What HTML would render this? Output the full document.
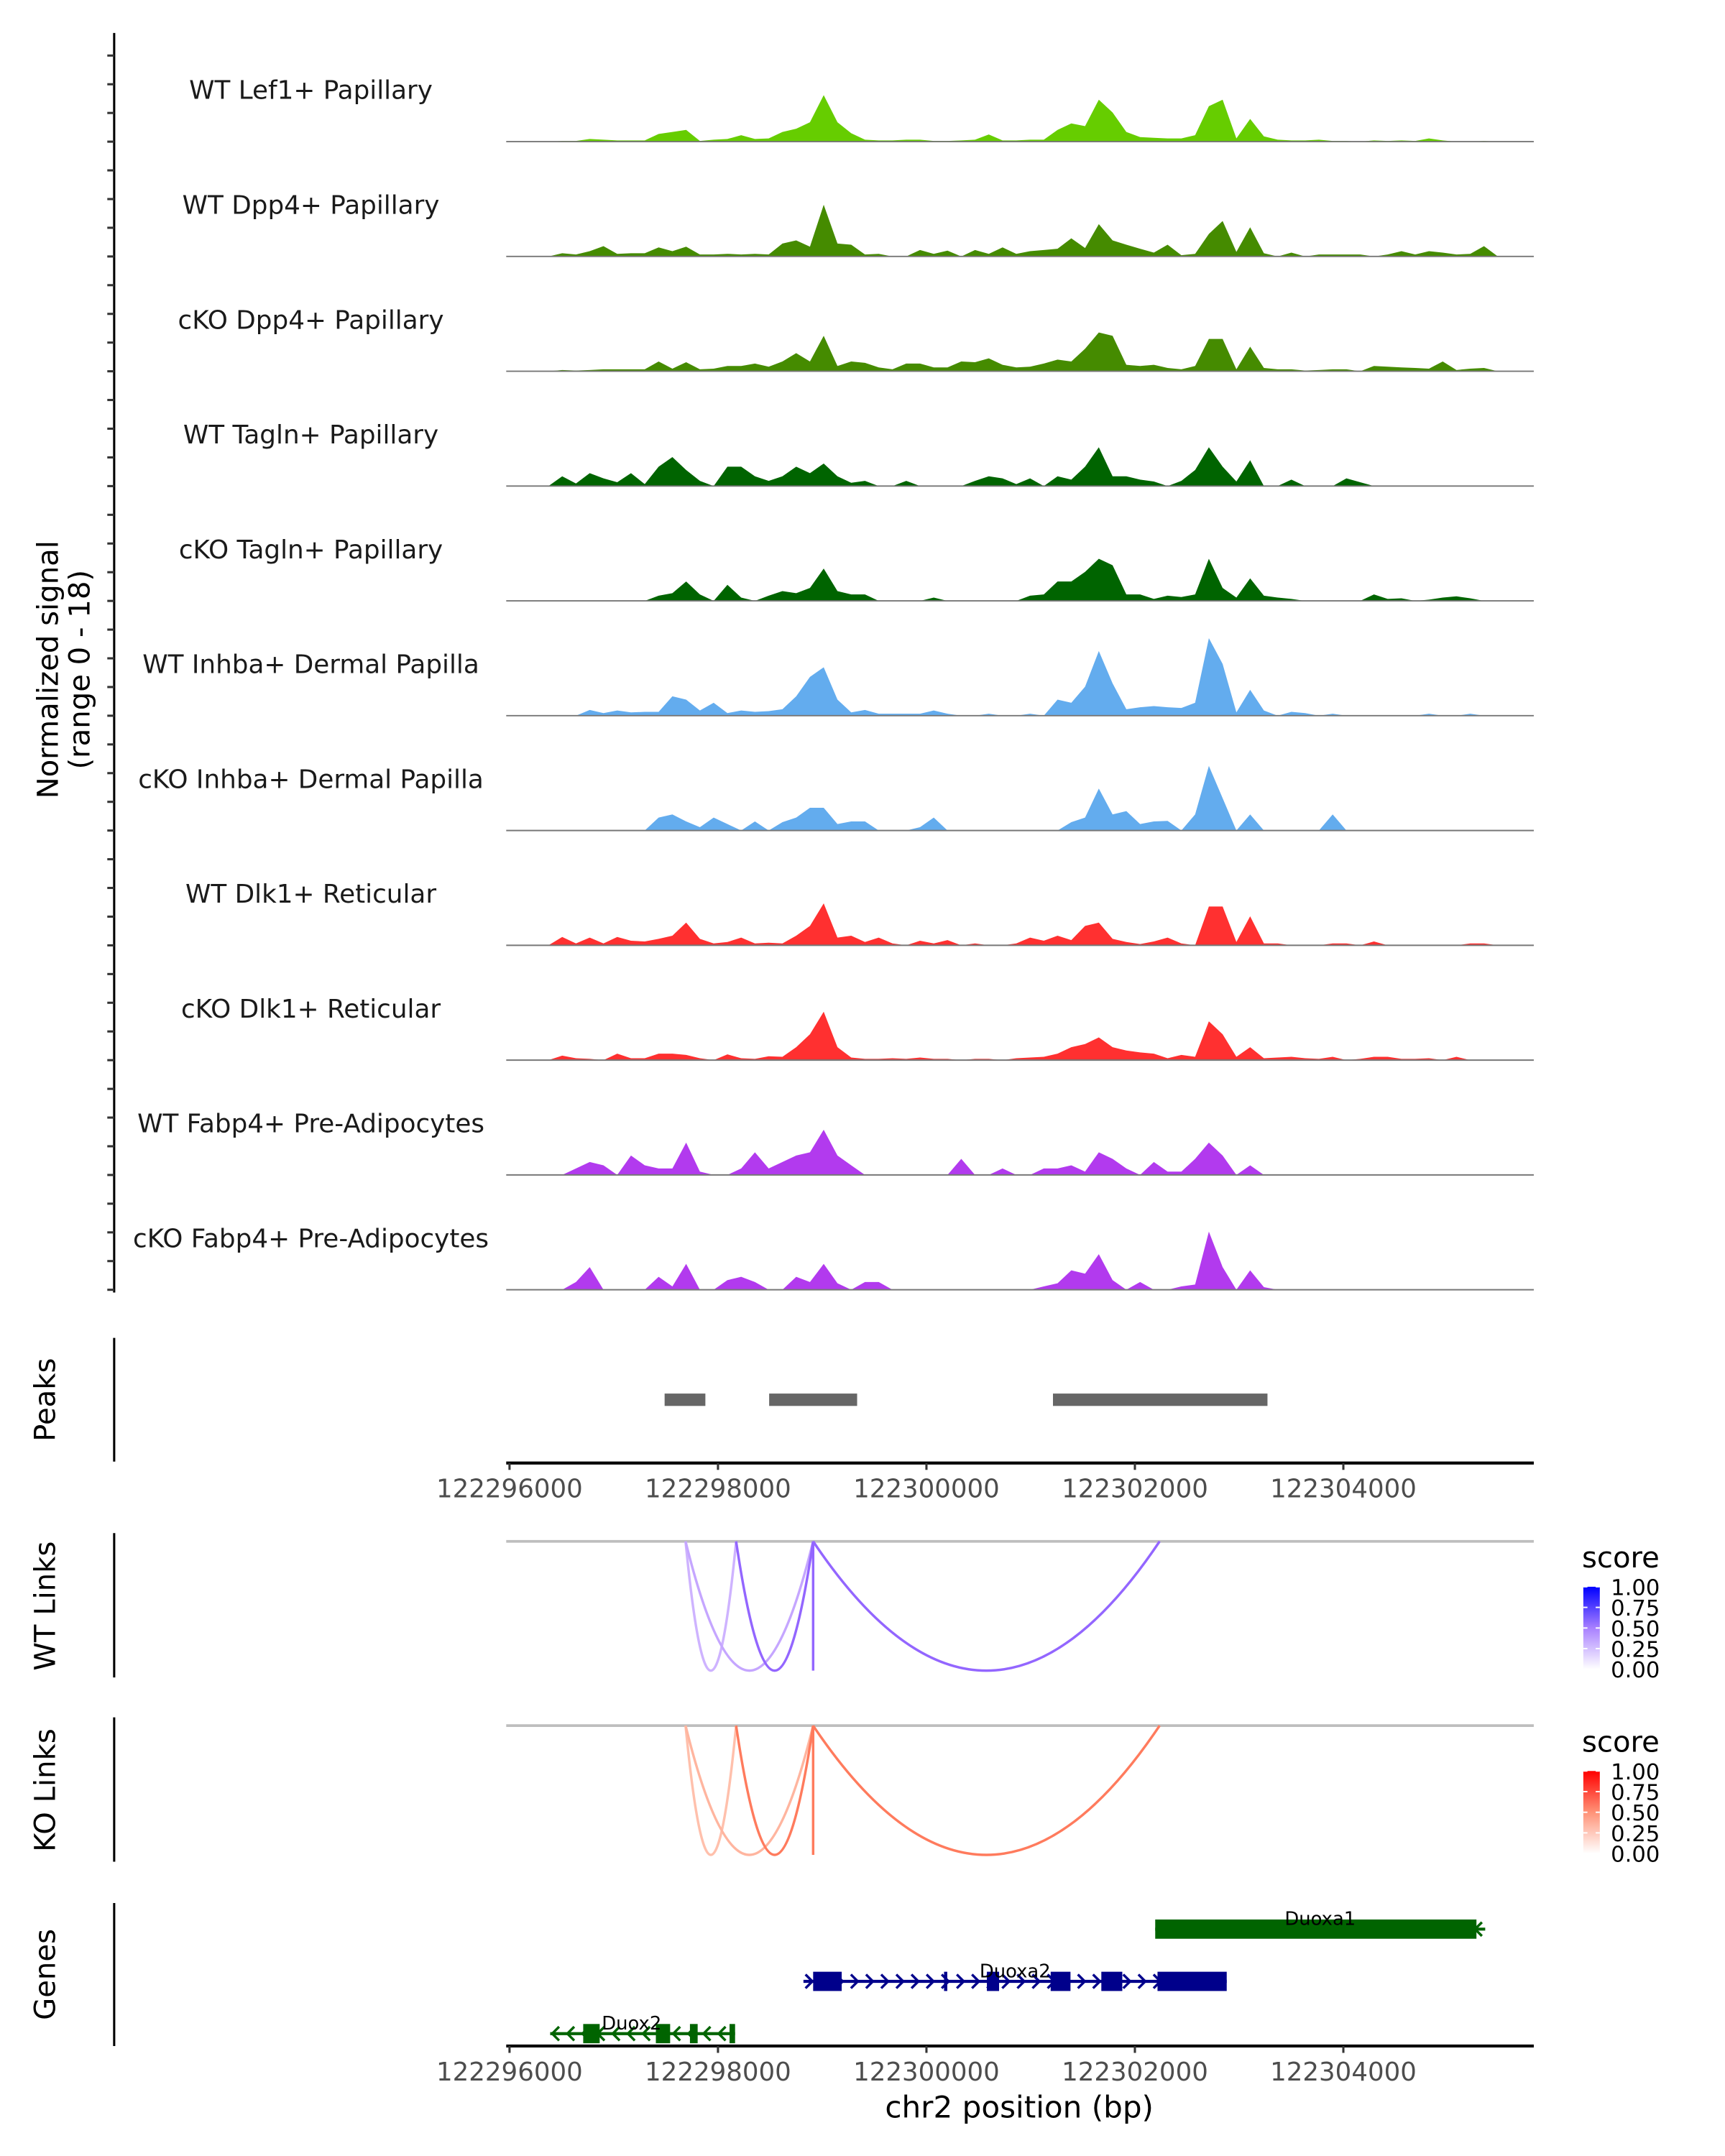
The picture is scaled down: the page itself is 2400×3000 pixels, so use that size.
<!DOCTYPE html>
<html><head><meta charset="utf-8"><style>
html,body{margin:0;padding:0;background:#fff;}
svg{display:block;}
text{font-family:"DejaVu Sans","Liberation Sans",sans-serif;}
</style></head><body>
<svg id="chart" xmlns="http://www.w3.org/2000/svg" width="2400" height="3000" viewBox="0 0 1254 1568" preserveAspectRatio="none">
<rect x="0" y="0" width="1254" height="1568" fill="#fff"/>
</svg>
<script>
// ---------- data ----------
const regionStart = 122296000;
const binStart = 122296110;
const binSize = 132;
const trackNames = ["WT Lef1+ Papillary","WT Dpp4+ Papillary","cKO Dpp4+ Papillary","WT Tagln+ Papillary","cKO Tagln+ Papillary","WT Inhba+ Dermal Papilla","cKO Inhba+ Dermal Papilla","WT Dlk1+ Reticular","cKO Dlk1+ Reticular","WT Fabp4+ Pre-Adipocytes","cKO Fabp4+ Pre-Adipocytes"];
const trackColors = ["#66cd00","#458b00","#458b00","#006400","#006400","#63acee","#63acee","#ff3030","#ff3030","#b23aee","#b23aee"];
const sigLef1 = [0,0,0,0.1,0.1,0.4,0.3,0.2,0.2,0.2,1.2,1.5,1.8,0.1,0.3,0.4,1.0,0.4,0.5,1.5,2.0,3.0,7.2,3.0,1.3,0.3,0.2,0.2,0.3,0.3,0.1,0.1,0.2,0.3,1.1,0.2,0.2,0.3,0.3,1.8,2.8,2.4,6.5,4.5,1.5,0.7,0.6,0.5,0.5,1.0,5.5,6.5,0.5,3.5,0.8,0.3,0.2,0.2,0.3,0.1,0.1,0,0.2,0.1,0.2,0.1,0.5,0.2,0,0,0.1,0];
const sigWTDpp4 = [0,0,0,0.5,0.3,0.8,1.6,0.4,0.5,0.5,1.4,0.8,1.5,0.3,0.3,0.4,0.3,0.4,0.3,2.0,2.5,1.5,8.0,2.0,1.8,0.3,0.4,0,0,1.0,0.4,0.9,0,1.0,0.4,1.4,0.4,0.8,1.0,1.2,2.8,1.3,5.0,2.5,1.8,1.2,0.6,1.8,0.2,0.4,3.5,5.5,0.7,4.5,0.5,0,0.6,0,0.3,0.3,0.3,0.3,0,0.3,0.8,0.3,0.8,0.6,0.3,0.4,1.6,0];
const sigKODpp4 = [0,0,0,0.2,0.1,0.2,0.3,0.3,0.3,0.3,1.5,0.4,1.4,0.3,0.4,0.8,0.8,1.2,0.7,1.5,2.8,1.5,5.5,0.8,1.5,1.3,0.6,0.3,1.2,1.2,0.6,0.6,1.5,1.4,2.0,1.0,0.6,0.7,1.2,1.8,1.5,3.5,6.0,5.5,1.0,0.8,1.0,0.5,0.3,0.8,5.0,5.0,0.3,3.8,0.5,0.3,0.3,0.1,0.2,0.3,0.3,0,0.8,0.7,0.6,0.5,0.4,1.5,0.2,0.4,0.5,0];
const sigWTTagln = [0,0,0,1.5,0.4,2.0,1.2,0.6,2.0,0.3,3.0,4.5,2.5,0.8,0,3.0,3.0,1.5,0.8,1.5,3.0,2.0,3.5,1.5,0.5,0.8,0,0,0.8,0,0,0,0,0.8,1.5,1.2,0.3,1.2,0,1.5,1.0,3.0,6.0,1.5,1.5,1.0,0.7,0,0.8,2.5,6.0,3.0,0.7,4.0,0,0,1.0,0,0,0,1.2,0.6,0,0,0,0,0,0,0,0,0,0];
const sigKOTagln = [0,0,0,0,0,0,0,0,0,0,0.8,1.2,3.0,1.0,0,2.5,0.5,0,0.8,1.5,1.2,2.0,5.0,1.5,1.0,1.0,0,0,0,0,0.5,0,0,0,0,0,0,0.8,1.0,3.0,3.0,4.5,6.5,5.5,1.0,1.0,0.3,0.8,0.6,1.0,6.5,2.0,0.5,3.5,0.8,0.5,0.3,0,0,0,0,0,1.0,0.3,0.4,0,0.2,0.5,0.7,0.4,0,0];
const sigWTInhba = [0,0,0,0,0,0.9,0.4,0.8,0.5,0.6,0.6,3.0,2.5,0.8,2.0,0.4,0.8,0.6,0.7,1.0,3.0,6.0,7.5,2.5,0.5,0.9,0.3,0.3,0.3,0.3,0.8,0.3,0,0,0.3,0,0,0.3,0,2.5,2.0,4.5,10.0,5.0,1.0,1.3,1.5,1.3,1.2,2.0,12.0,8.0,0.5,4.0,0.8,0,0.6,0.4,0,0.3,0,0,0,0,0,0,0.3,0,0,0.3,0,0];
const sigKOInhba = [0,0,0,0,0,0,0,0,0,0,2.0,2.5,1.4,0.5,2.0,1.0,0,1.4,0,1.3,2.0,3.5,3.5,1.0,1.4,1.4,0,0,0,0.5,2.0,0,0,0,0,0,0,0,0,0,1.3,2.0,6.5,2.5,3.0,1.0,1.4,1.5,0,2.5,10.0,5.0,0,2.5,0,0,0,0,0,2.5,0,0,0,0,0,0,0,0,0,0,0,0];
const sigWTDlk1 = [0,0,0,1.3,0.3,1.2,0.3,1.3,0.7,0.6,1.0,1.5,3.5,1.0,0.3,0.5,1.2,0.3,0.4,0.3,1.5,3.0,6.5,1.2,1.5,0.5,1.2,0.3,0,0.7,0.3,0.8,0,0.3,0,0,0.3,1.2,0.7,1.5,0.8,3.0,3.5,1.0,0.5,0.2,0.6,1.2,0.3,0,6.0,6.0,0.5,4.5,0.3,0.3,0,0,0,0.3,0.3,0,0.6,0,0,0,0,0,0,0.3,0.3,0];
const sigKODlk1 = [0,0,0,0.7,0.3,0.2,0,1.0,0.3,0.3,1.0,1.0,0.8,0.3,0,0.9,0.3,0.2,0.6,0.5,2.0,4.0,7.5,2.0,0.4,0.2,0.2,0.3,0.2,0.4,0.2,0.2,0,0.2,0.2,0,0.3,0.4,0.5,1.0,2.0,2.5,3.5,2.0,1.5,1.2,1.0,0.3,0.8,0.5,6.0,4.0,0.5,2.0,0.3,0.4,0.5,0.3,0.2,0.5,0,0.2,0.5,0.5,0.2,0.2,0.3,0,0.5,0,0,0];
const sigWTFabp4 = [0,0,0,0,1.0,2.0,1.5,0,3.0,1.5,1.0,1.0,5.0,0.5,0,0,1.0,3.5,1.0,2.0,3.0,3.5,7.0,3.0,1.5,0,0,0,0,0,0,0,2.5,0,0,1.0,0,0,1.0,1.0,1.5,0.5,3.5,2.5,1.0,0,2.0,0.5,0.5,2.5,5.0,3.0,0,1.5,0,0,0,0,0,0,0,0,0,0,0,0,0,0,0,0,0,0];
const sigKOFabp4 = [0,0,0,0,1.2,3.5,0,0,0,0,2.0,0.5,4.0,0,0,1.5,2.0,1.2,0,0,2.0,1.2,4.0,1.0,0,1.2,1.2,0,0,0,0,0,0,0,0,0,0,0,0.5,1.0,3.0,2.5,5.5,1.5,0,1.2,0,0,0.5,0.8,9.0,3.5,0,3.0,0.4,0,0,0,0,0,0,0,0,0,0,0,0,0,0,0,0,0];
const signals = [sigLef1,sigWTDpp4,sigKODpp4,sigWTTagln,sigKOTagln,sigWTInhba,sigKOInhba,sigWTDlk1,sigKODlk1,sigWTFabp4,sigKOFabp4];
const peakStarts = [122297488,122298491,122301214];
const peakEnds = [122297879,122299335,122303272];
const linkStarts = [122297689,122297689,122298174,122298913,122298913];
const linkEnds = [122298174,122298913,122298913,122302237,122298913];
const wtScores = [0.3,0.35,0.6,0.6,0.6];
const koScores = [0.3,0.35,0.6,0.6,0.6];
const tickValues = [122296000,122298000,122300000,122302000,122304000];
const legendTicks = ["1.00","0.75","0.50","0.25","0.00"];
const geneNames = ["Duoxa1","Duoxa2","Duox2"];
const geneStarts = [122302195,122298820,122296390];
const geneEnds = [122305361,122302881,122298164];
const geneStrands = ["-","+","-"];
const geneColors = ["#006400","#00008b","#006400"];
const duoxa1Exons = [[122302195,122305277]];
const duoxa2Exons = [[122298913,122299187],[122300169,122300200],[122300580,122300697],[122301192,122301382],[122301678,122301879],[122302217,122302881]];
const duox2Exons = [[122296707,122296865],[122297404,122297541],[122297731,122297805],[122298111,122298164]];
const geneExons = [duoxa1Exons,duoxa2Exons,duox2Exons];

// ---------- scales ----------
const pxPerBp = 0.07577;
const X = bp => 370.4 + (bp - regionStart) * pxPerBp;
const xLeft = 368, xRight = 1115;
const trackBase = i => 103 + 83.5 * i;
const unitPx = 4.7;
const NS = "http://www.w3.org/2000/svg";
const svg = document.getElementById("chart");
function mk(tag, attrs, parent) {
  const e = document.createElementNS(NS, tag);
  for (const k in attrs) e.setAttribute(k, attrs[k]);
  (parent || svg).appendChild(e);
  return e;
}
function txt(str, attrs, parent) { const t = mk("text", attrs, parent); t.textContent = str; return t; }

// ---------- signal axis ----------
const axisG = mk("g", {});


const axl = mk("line", {x1:83, y1:24, x2:83, y2:940, stroke:"#000", "stroke-width":1.6}, axisG);


for (let y = 40.4; y <= 941; y += 20.875) {
  const tk = mk("line", {x1:78, y1:y, x2:83, y2:y, stroke:"#333", "stroke-width":1.6}, axisG);
  
  
}
const yt = txt("", {transform:"translate(42,487) rotate(-90)", "text-anchor":"middle", "font-size":21, fill:"#000"});


const ts1 = mk("tspan", {x:0, dy:0}, yt); ts1.textContent = "Normalized signal";
const ts2 = mk("tspan", {x:0, dy:23}, yt); ts2.textContent = "(range 0 - 18)";

// ---------- coverage tracks ----------
signals.forEach((vals, t) => {
  const g = mk("g", {});
  
  
  const base = trackBase(t);
  let d = "M" + X(binStart).toFixed(1) + "," + base;
  vals.forEach((v, i) => {
    d += " L" + X(binStart + i * binSize).toFixed(1) + "," + (base - v * unitPx).toFixed(1);
  });
  d += " L" + X(binStart + (vals.length - 1) * binSize).toFixed(1) + "," + base + " Z";
  const p = mk("path", {d:d, fill:trackColors[t], stroke:"none"}, g);
  
  
  const bl = mk("line", {x1:xLeft, y1:base, x2:xRight, y2:base, stroke:"#777", "stroke-width":1}, g);
  
  
  const lb = txt(trackNames[t], {x:226, y:base - 31, "text-anchor":"middle", "font-size":18.7, fill:"#1a1a1a"}, g);
  
  
});

// ---------- peaks ----------
const pk = mk("g", {});


const pkl = mk("line", {x1:83, y1:973, x2:83, y2:1063, stroke:"#000", "stroke-width":1.6}, pk);


const pkt = txt("Peaks", {transform:"translate(40,1018) rotate(-90)", "text-anchor":"middle", "font-size":21}, pk);


peakStarts.forEach((s, i) => {
  const r = mk("rect", {x:X(s), y:1013.5, width:X(peakEnds[i]) - X(s), height:9, fill:"#666"}, pk);
  
  
});
function xAxis(y, name) {
  const g = mk("g", {});
  
  
  mk("line", {x1:xLeft, y1:y, x2:xRight, y2:y, stroke:"#000", "stroke-width":2.2}, g);
  tickValues.forEach(v => {
    const tk = mk("line", {x1:X(v), y1:y, x2:X(v), y2:y + 5, stroke:"#333", "stroke-width":1.6}, g);
    
    
    const tl = txt(String(v), {x:X(v), y:y + 25, "text-anchor":"middle", "font-size":18.6, fill:"#4d4d4d"}, g);
    
    
  });
}
xAxis(1064, 'peaks-x-axis');

// ---------- links ----------
function colWT(s) { return "rgb(" + Math.round(255*Math.pow(1-s,0.6)) + "," + Math.round(255*(1-s)) + ",255)"; }
function colKO(s) { return "rgb(255," + Math.round(255*Math.pow(1-s,0.8)) + "," + Math.round(255*Math.pow(1-s,1.1)) + ")"; }
function linksPanel(top, label, scores, colFn, topColor, name) {
  const g = mk("g", {});
  
  
  const vl = mk("line", {x1:83, y1:top - 6, x2:83, y2:top + 99, stroke:"#000", "stroke-width":1.6}, g);
  
  
  const lt = txt(label, {transform:"translate(40," + (top + 47) + ") rotate(-90)", "text-anchor":"middle", "font-size":21}, g);
  
  
  const hl = mk("line", {x1:xLeft, y1:top, x2:xRight, y2:top, stroke:"#bebebe", "stroke-width":2}, g);
  
  
  const depth = 94;
  linkStarts.forEach((s, i) => {
    const x1 = X(s), x2 = X(linkEnds[i]);
    let d;
    if (Math.abs(x2 - x1) < 1) d = "M" + x1 + "," + top + " L" + x1 + "," + (top + depth);
    else d = "M" + x1 + "," + top + " Q" + ((x1 + x2) / 2) + "," + (top + 2 * depth) + " " + x2 + "," + top;
    const p = mk("path", {d:d, fill:"none", stroke:colFn(scores[i]), "stroke-width":1.8}, g);
    
    
  });
  const lg = mk("g", {}, g);
  
  
  const gid = "grad" + name;
  const defs = mk("defs", {}, lg);
  const gr = mk("linearGradient", {id:gid, x1:0, y1:0, x2:0, y2:1}, defs);
  mk("stop", {offset:"0", "stop-color":topColor}, gr);
  mk("stop", {offset:"0.5", "stop-color":colFn(0.5)}, gr);
  mk("stop", {offset:"1", "stop-color":"#ffffff"}, gr);
  const st = txt("score", {x:1150, y:top + 19, "font-size":21}, lg);
  
  
  const by = top + 33, bh = 60;
  mk("rect", {x:1151, y:by, width:12, height:bh, fill:"url(#" + gid + ")"}, lg);
  legendTicks.forEach((t, k) => {
    const yy = by + k * bh / 4;
    mk("line", {x1:1151, y1:yy, x2:1154, y2:yy, stroke:"#fff", "stroke-width":1}, lg);
    mk("line", {x1:1160, y1:yy, x2:1163, y2:yy, stroke:"#fff", "stroke-width":1}, lg);
    const tl = txt(t, {x:1171, y:yy + 6, "font-size":16}, lg);
    
    
  });
}
linksPanel(1121, "WT Links", wtScores, colWT, "#0000ff", "wt-links-panel");
linksPanel(1255, "KO Links", koScores, colKO, "#ff0000", "ko-links-panel");

// ---------- genes ----------
const gg = mk("g", {});


const gvl = mk("line", {x1:83, y1:1384, x2:83, y2:1488, stroke:"#000", "stroke-width":1.6}, gg);


const glb = txt("Genes", {transform:"translate(40,1436) rotate(-90)", "text-anchor":"middle", "font-size":21}, gg);


const geneRowY = [1403, 1441, 1479];
geneNames.forEach((nm, i) => {
  const g = mk("g", {}, gg);
  
  
  const y = geneRowY[i], c = geneColors[i];
  const x1 = X(geneStarts[i]), x2 = X(geneEnds[i]);
  mk("line", {x1:x1, y1:y, x2:x2, y2:y, stroke:c, "stroke-width":2.2}, g);
  const dir = geneStrands[i] === "+" ? 1 : -1;
  for (let xx = x1 + 4; xx < x2 - 2; xx += 11) {
    mk("path", {d:"M" + (xx - 2.5*dir) + "," + (y - 5) + " L" + (xx + 2.5*dir) + "," + y + " L" + (xx - 2.5*dir) + "," + (y + 5), fill:"none", stroke:c, "stroke-width":1.8}, g);
  }
  geneExons[i].forEach(ex => {
    const r = mk("rect", {x:X(ex[0]), y:y - 7, width:Math.max(1.5, X(ex[1]) - X(ex[0])), height:14, fill:c}, g);
    
    
  });
  const gl = txt(nm, {x:(x1 + x2) / 2 + (i === 2 ? -8 : 0), y:y - 3, "text-anchor":"middle", "font-size":13.5, fill:"#000"}, g);
  
  
});
xAxis(1488, 'genes-x-axis');
const xt = txt("chr2 position (bp)", {x:741, y:1540, "text-anchor":"middle", "font-size":22, fill:"#000"});


</script>
</body></html>
